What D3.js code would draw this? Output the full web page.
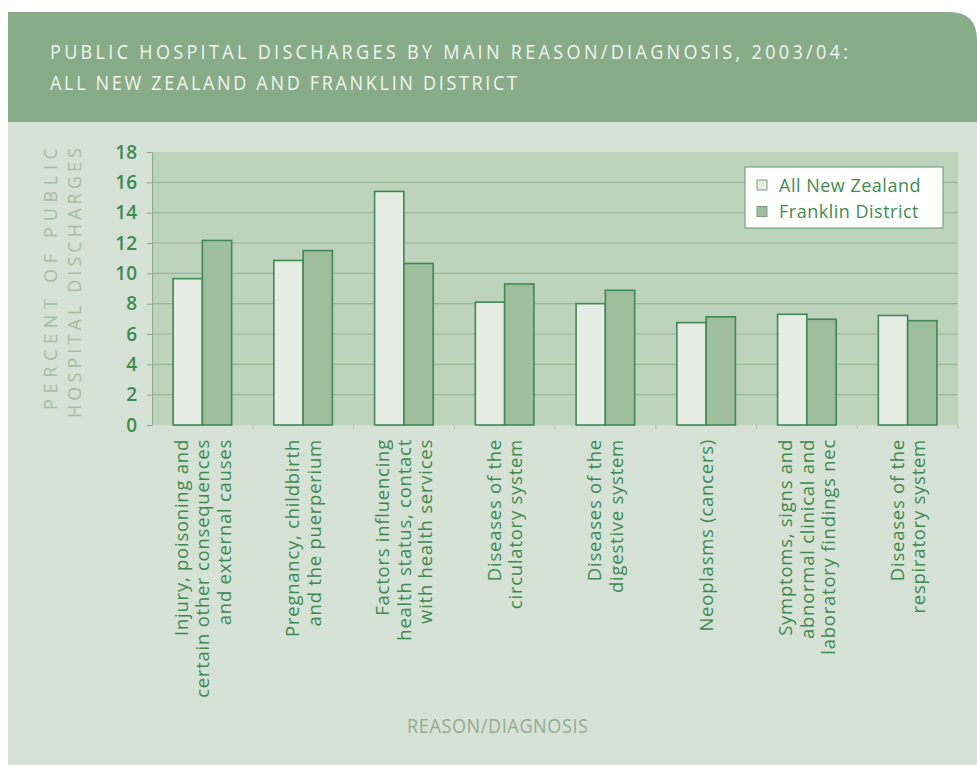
<!DOCTYPE html>
<html><head><meta charset="utf-8">
<script src="https://cdn.jsdelivr.net/npm/d3@7"></script>
<style>
html,body{margin:0;padding:0;background:#ffffff;}
svg{display:block;}
</style></head>
<body>
<div id="chart"></div>
<script>
// ---- data ----
const categories = [
  ["Injury, poisoning and", "certain other consequences", "and external causes"],
  ["Pregnancy, childbirth", "and the puerperium"],
  ["Factors influencing", "health status, contact", "with health services"],
  ["Diseases of the", "circulatory system"],
  ["Diseases of the", "digestive system"],
  ["Neoplasms (cancers)"],
  ["Symptoms, signs and", "abnormal clinical and", "laboratory findings nec"],
  ["Diseases of the", "respiratory system"]
];
const seriesNames = ["All New Zealand", "Franklin District"];
const allNZ     = [9.65, 10.85, 15.4, 8.1, 8.0, 6.75, 7.3, 7.22];
const franklin  = [12.17, 11.5, 10.65, 9.3, 8.88, 7.13, 6.97, 6.88];
const yTicks = [0, 2, 4, 6, 8, 10, 12, 14, 16, 18];
const titleLines = ["PUBLIC HOSPITAL DISCHARGES BY MAIN REASON/DIAGNOSIS, 2003/04:", "ALL NEW ZEALAND AND FRANKLIN DISTRICT"];
const yTitleLines = ["PERCENT OF PUBLIC", "HOSPITAL DISCHARGES"];
const xTitle = "REASON/DIAGNOSIS";

// ---- layout ----
const W = 977, H = 765;
const plot = {left: 152, right: 958, top: 152, bottom: 425};
const C = {
  header: "#88ac88", panel: "#d6e2d5", plotBg: "#bdd3bb", grid: "#97b796",
  nzFill: "#e6ece4", frFill: "#9fbf9c", barStroke: "#3f8955",
  axisText: "#3f8a50", yTitle: "#a4bfa3", xTitle: "#93ad92", titleText: "#f1f5f0"
};
const body = "'Open Sans','Noto Sans',sans-serif";
const narrow = 0.88; // horizontal squeeze for the condensed caption font

const svg = d3.select("#chart").append("svg").attr("width", W).attr("height", H);

// panel + header
svg.append("rect").attr("x", 8).attr("y", 122).attr("width", W - 8).attr("height", H - 122).attr("fill", C.panel);
const hx = 8, hy = 12, hw = W - 8, hh = 110, r = 28;
svg.append("path")
  .attr("d", `M${hx},${hy} H${hx + hw - r} Q${hx + hw},${hy} ${hx + hw},${hy + r} V${hy + hh} H${hx} Z`)
  .attr("fill", C.header);

const titleLens = [798, 467];
titleLines.forEach((t, i) => {
  svg.append("text")
    .attr("transform", `translate(50,${58.5 + i * 31.5}) scale(${narrow},1)`)
    .attr("fill", C.titleText).attr("font-family", body).attr("font-size", 20.5)
    .attr("textLength", titleLens[i] / narrow).attr("lengthAdjust", "spacing")
    .text(t);
});

// scales
const x = d3.scaleBand().domain(d3.range(categories.length)).range([plot.left, plot.right]).paddingInner(0).paddingOuter(0);
const xs = d3.scaleBand().domain([0, 1]).range([0, x.bandwidth()]).paddingInner(0).paddingOuter(0.72);
const y = d3.scaleLinear().domain([0, 18]).range([plot.bottom, plot.top]);

// plot background
svg.append("rect").attr("x", plot.left).attr("y", plot.top)
  .attr("width", plot.right - plot.left).attr("height", plot.bottom - plot.top).attr("fill", C.plotBg);

// gridlines
svg.append("g").selectAll("line").data(yTicks.filter(d => d > 0 && d < 18)).join("line")
  .attr("x1", plot.left).attr("x2", plot.right)
  .attr("y1", d => y(d)).attr("y2", d => y(d))
  .attr("stroke", C.grid).attr("stroke-width", 1.2);

// y axis
const yAxis = svg.append("g").attr("transform", `translate(${plot.left},0)`)
  .call(d3.axisLeft(y).tickValues(yTicks).tickSize(5).tickPadding(10).tickFormat(d3.format("d")));
yAxis.select(".domain").attr("stroke", "#8aa98a").attr("stroke-width", 1);
yAxis.selectAll(".tick line").attr("stroke", "#8aa98a");
yAxis.selectAll(".tick text").attr("fill", C.axisText).attr("font-family", body)
  .attr("font-size", 19).attr("font-weight", 600);

// x axis (baseline + ticks at band boundaries)
svg.append("line").attr("x1", plot.left).attr("x2", plot.right).attr("y1", plot.bottom).attr("y2", plot.bottom)
  .attr("stroke", "#c5d6c4").attr("stroke-width", 1);
svg.append("g").selectAll("line").data(d3.range(1, categories.length + 1)).join("line")
  .attr("x1", d => x(d - 1) + x.bandwidth()).attr("x2", d => x(d - 1) + x.bandwidth())
  .attr("y1", plot.bottom).attr("y2", plot.bottom + 4)
  .attr("stroke", "#aebfad").attr("stroke-width", 1);

// bars
const rows = categories.map((c, i) => ({i, vals: [allNZ[i], franklin[i]]}));
const groups = svg.append("g").selectAll("g").data(rows).join("g")
  .attr("transform", d => `translate(${x(d.i)},0)`);
groups.selectAll("rect").data(d => d.vals.map((v, s) => ({v, s}))).join("rect")
  .attr("x", d => xs(d.s)).attr("width", xs.bandwidth())
  .attr("y", d => y(d.v)).attr("height", d => y(0) - y(d.v))
  .attr("fill", d => d.s === 0 ? C.nzFill : C.frFill)
  .attr("stroke", C.barStroke).attr("stroke-width", 1.6);

// category labels
const lineH = 21.5;
categories.forEach((lines, i) => {
  const cx = x(i) + x.bandwidth() / 2;
  const n = lines.length;
  lines.forEach((t, j) => {
    const lx = cx + (j - (n - 1) / 2) * lineH;
    svg.append("text")
      .attr("transform", `translate(${lx},439) rotate(-90)`)
      .attr("dy", "0.36em").attr("text-anchor", "end")
      .attr("fill", C.axisText).attr("font-family", body).attr("font-size", 18.5)
      .attr("letter-spacing", 0.75)
      .text(t);
  });
});

// y title
const yTitleSpan = [[410, 262], [418, 270]];
const yNarrow = 0.95;
yTitleLines.forEach((t, i) => {
  svg.append("text")
    .attr("transform", `translate(${57 + i * 24},${yTitleSpan[i][0]}) rotate(-90) scale(${yNarrow},1)`)
    .attr("fill", C.yTitle).attr("font-family", body).attr("font-size", 19)
    .attr("textLength", yTitleSpan[i][1] / yNarrow).attr("lengthAdjust", "spacing")
    .text(t);
});

// x title
svg.append("text").attr("transform", `translate(407,733) scale(${narrow},1)`)
  .attr("fill", C.xTitle).attr("font-family", body).attr("font-size", 20.5)
  .attr("textLength", 181 / narrow).attr("lengthAdjust", "spacing").text(xTitle);

// legend
const lg = svg.append("g").attr("transform", "translate(745,167)");
lg.append("rect").attr("width", 198).attr("height", 61).attr("fill", "#ffffff").attr("stroke", "#5e9a6b").attr("stroke-width", 1);
seriesNames.forEach((s, i) => {
  lg.append("rect").attr("x", 12).attr("y", 13 + i * 26.5).attr("width", 10).attr("height", 10)
    .attr("fill", i === 0 ? C.nzFill : C.frFill).attr("stroke", "#7d9b80").attr("stroke-width", 1);
  lg.append("text").attr("x", 34).attr("y", 24.5 + i * 26.5)
    .attr("fill", C.axisText).attr("font-family", body).attr("font-size", 18)
    .attr("letter-spacing", 0.5)
    .text(s);
});
</script>
</body></html>
